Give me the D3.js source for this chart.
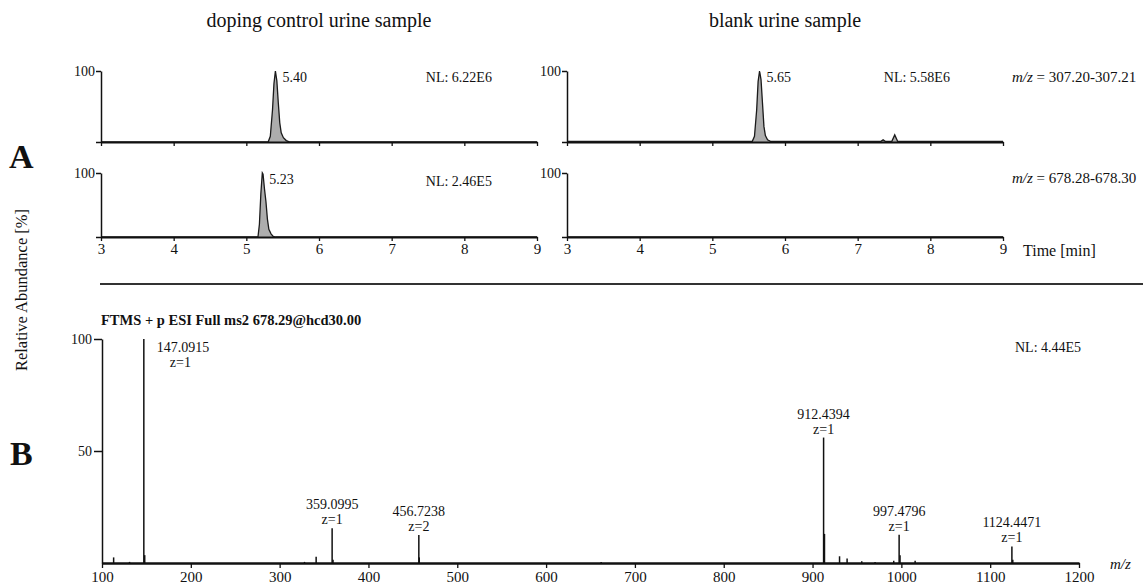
<!DOCTYPE html>
<html>
<head>
<meta charset="utf-8">
<script src="https://cdnjs.cloudflare.com/ajax/libs/d3/7.8.5/d3.min.js"></script>
<style>
body { margin: 0; background: #fff; }
svg text { font-family: "Liberation Serif", "Times New Roman", serif; fill: #111; }
.axis path, .axis line { stroke: #111; }
.axis text { font-size: 15px; font-family: "Liberation Serif", "Times New Roman", serif; }
</style>
</head>
<body>
<svg id="svg1" width="1143" height="585"></svg>
<script>
var svg = d3.select('#svg1');

// chromatograms (time [min], relative abundance)
var sampleTitles = ['doping control urine sample', 'blank urine sample'];
var timeTicks = [3, 4, 5, 6, 7, 8, 9];
var mzRanges = ['307.20-307.21', '678.28-678.30'];

var doping307 = [[3, 0], [5.30, 0], [5.33, 8], [5.36, 45], [5.38, 82], [5.40, 100], [5.42, 86], [5.44, 55],
    [5.46, 27], [5.48, 13], [5.51, 6], [5.55, 2], [5.60, 0], [9, 0]];
var blank307 = [[3, 1], [5.55, 1], [5.58, 8], [5.61, 45], [5.63, 85], [5.65, 100], [5.67, 88], [5.69, 55],
    [5.71, 22], [5.73, 9], [5.76, 3], [5.80, 1], [7.32, 1], [7.35, 3], [7.38, 1], [7.47, 1], [7.51, 10],
    [7.55, 1], [9, 1]];
var doping678 = [[3, 0], [5.16, 0], [5.18, 20], [5.20, 68], [5.22, 100], [5.23, 98], [5.25, 75], [5.27, 55],
    [5.29, 28], [5.31, 12], [5.34, 5], [5.37, 1], [5.40, 0], [9, 0]];
var blank678 = [[3, 0], [9, 0]];

var apexLabels = ['5.40', '5.65', '5.23', null];
var nlLabels = ['NL: 6.22E6', 'NL: 5.58E6', 'NL: 2.46E5', null];

// MS2 spectrum
var specMz = [113.1, 131.0, 147.09, 148.1, 328.0, 341.1, 359.10, 360.1, 456.72, 457.22, 662.0,
    912.44, 913.44, 930.4, 938.9, 955.4, 970.4, 991.4, 997.48, 998.48, 1015.5, 1124.45, 1125.45];
var specAbund = [2.5, 0.5, 100, 3.5, 0.5, 2.8, 15.5, 1.5, 12.5, 2.5, 0.4,
    56, 13, 3, 2, 0.8, 0.5, 1, 12.6, 3.5, 1, 7.4, 1.5];
var peakLabels = ['147.0915', '359.0995', '456.7238', '912.4394', '997.4796', '1124.4471'];
var peakCharges = ['z=1', 'z=1', 'z=2', 'z=1', 'z=1', 'z=1'];
var mzTicks = [100, 200, 300, 400, 500, 600, 700, 800, 900, 1000, 1100, 1200];

var panels = [
    {data: doping307, col: 0, row: 0},
    {data: blank307, col: 1, row: 0},
    {data: doping678, col: 0, row: 1},
    {data: blank678, col: 1, row: 1}
];
var colX = [[101, 537], [567, 1003]];
var rowY = [[71, 142], [173, 237]];

function cleanAxis(g) {
    g.attr('font-family', null).attr('font-size', null);
}

// titles
svg.selectAll('.title')
    .data(sampleTitles)
    .enter()
    .append('text')
    .attr('class', 'title')
    .attr('x', function(d, i) { return (colX[i][0] + colX[i][1]) / 2; })
    .attr('y', 27)
    .attr('text-anchor', 'middle')
    .style('font-size', '20px')
    .text(function(d) { return d; });

panels.forEach(function(p, i) {
    var xScale = d3.scaleLinear().domain([3, 9]).range(colX[p.col]);
    var yScale = d3.scaleLinear().domain([0, 100]).range([rowY[p.row][1], rowY[p.row][0]]);
    var g = svg.append('g');

    var area = d3.area()
        .x(function(d) { return xScale(d[0]); })
        .y0(yScale(0))
        .y1(function(d) { return yScale(d[1]); });
    var line = d3.line()
        .x(function(d) { return xScale(d[0]); })
        .y(function(d) { return yScale(d[1]); });

    g.append('path')
        .datum(p.data)
        .attr('d', area)
        .style('fill', '#adadad');
    g.append('path')
        .datum(p.data)
        .attr('d', line)
        .style('fill', 'none')
        .style('stroke', '#1a1a1a')
        .style('stroke-width', 1.3);

    var yAxis = d3.axisLeft(yScale).tickValues([0, 100]).tickSize(5).tickSizeOuter(0).tickPadding(1)
        .tickFormat(function(d) { return d == 100 ? '100' : ''; });
    var yg = g.append('g')
        .attr('class', 'axis')
        .attr('transform', 'translate(' + [colX[p.col][0], 0] + ')')
        .call(yAxis)
        .call(cleanAxis);
    yg.selectAll('path, line').style('stroke-width', 1.5);
    yg.selectAll('text').style('font-size', '14px');

    var xAxis = d3.axisBottom(xScale).tickValues(timeTicks).tickSize(4).tickSizeOuter(0).tickPadding(2)
        .tickFormat(d3.format('d'));
    var xg = g.append('g')
        .attr('class', 'axis')
        .attr('transform', 'translate(' + [0, yScale(0)] + ')')
        .call(xAxis)
        .call(cleanAxis);
    xg.select('.domain').style('stroke-width', 2.2);
    xg.selectAll('line').style('stroke-width', 1.3);
    if (p.row == 0) xg.selectAll('text').remove();

    if (apexLabels[i]) {
        var apex = d3.greatest(p.data, function(d) { return d[1]; });
        g.append('text')
            .attr('x', xScale(apex[0]) + 7)
            .attr('y', yScale(apex[1]) + 11)
            .style('font-size', '14px')
            .text(apexLabels[i]);
    }
    if (nlLabels[i]) {
        g.append('text')
            .attr('x', xScale(p.col == 0 ? 7.47 : 7.36))
            .attr('y', yScale(100) + (p.row == 0 ? 11 : 13))
            .style('font-size', '14px')
            .text(nlLabels[i]);
    }
    if (p.col == 1) {
        var t = g.append('text')
            .attr('x', 1012)
            .attr('y', yScale(100) + (p.row == 0 ? 11 : 10))
            .style('font-size', '15px');
        t.append('tspan').style('font-style', 'italic').text('m/z');
        t.append('tspan').text(' = ' + mzRanges[p.row]);
    }
});

svg.append('text')
    .attr('x', 1023)
    .attr('y', 256)
    .style('font-size', '16px')
    .text('Time [min]');

// panel letters and shared y label
svg.append('text').attr('x', 9).attr('y', 168)
    .style('font-size', '34px').style('font-weight', 'bold').text('A');
svg.append('text').attr('x', 10).attr('y', 465)
    .style('font-size', '34px').style('font-weight', 'bold').text('B');
svg.append('text')
    .attr('transform', 'translate(27,290) rotate(-90)')
    .attr('text-anchor', 'middle')
    .style('font-size', '16.5px')
    .text('Relative Abundance [%]');

// separator
svg.append('line')
    .attr('x1', 100).attr('x2', 1143)
    .attr('y1', 284).attr('y2', 284)
    .style('stroke', '#333')
    .style('stroke-width', 2);

// spectrum
var xSpec = d3.scaleLinear().domain([100, 1200]).range([102, 1079]);
var ySpec = d3.scaleLinear().domain([0, 100]).range([563, 339]);

svg.append('text')
    .attr('x', 101).attr('y', 325)
    .style('font-size', '14.5px').style('font-weight', 'bold')
    .text('FTMS + p ESI Full ms2 678.29@hcd30.00');

svg.selectAll('.stick')
    .data(specMz)
    .enter()
    .append('line')
    .attr('class', 'stick')
    .attr('x1', function(d) { return xSpec(d); })
    .attr('x2', function(d) { return xSpec(d); })
    .attr('y1', ySpec(0))
    .attr('y2', function(d, i) { return ySpec(specAbund[i]); })
    .style('stroke', '#111')
    .style('stroke-width', 1.5);

var ySpecAxis = d3.axisLeft(ySpec).tickValues([50, 100]).tickSize(8).tickSizeOuter(0).tickPadding(2);
var ys = svg.append('g')
    .attr('class', 'axis')
    .attr('transform', 'translate(' + [102, 0] + ')')
    .call(ySpecAxis)
    .call(cleanAxis);
ys.selectAll('path, line').style('stroke-width', 1.5);
ys.selectAll('text').style('font-size', '14px');

var xSpecAxis = d3.axisBottom(xSpec).tickValues(mzTicks).tickSize(5).tickSizeOuter(0).tickPadding(3)
    .tickFormat(d3.format('d'));
var xs = svg.append('g')
    .attr('class', 'axis')
    .attr('transform', 'translate(' + [0, 563] + ')')
    .call(xSpecAxis)
    .call(cleanAxis);
xs.select('.domain').style('stroke-width', 2.5);
xs.selectAll('line').style('stroke-width', 1.3);

var lbl = svg.selectAll('.peaklabel')
    .data(peakLabels)
    .enter()
    .append('g')
    .attr('class', 'peaklabel');

lbl.each(function(d, i) {
    var mz = +d;
    var k = specMz.findIndex(function(m) { return Math.abs(m - mz) < 0.05; });
    var top = ySpec(specAbund[k]);
    var g = d3.select(this);
    if (specAbund[k] >= 100) {
        g.append('text').attr('x', xSpec(mz) + 13).attr('y', top + 13)
            .style('font-size', '14px').text(d);
        g.append('text').attr('x', xSpec(mz) + 26).attr('y', top + 28)
            .style('font-size', '14px').text(peakCharges[i]);
    } else {
        g.append('text').attr('x', xSpec(mz)).attr('y', top - 19)
            .attr('text-anchor', 'middle').style('font-size', '14px').text(d);
        g.append('text').attr('x', xSpec(mz)).attr('y', top - 4)
            .attr('text-anchor', 'middle').style('font-size', '14px').text(peakCharges[i]);
    }
});

svg.append('text')
    .attr('x', 1015).attr('y', 352)
    .style('font-size', '14px')
    .text('NL: 4.44E5');

svg.append('text')
    .attr('x', 1110).attr('y', 569)
    .style('font-size', '15px').style('font-style', 'italic')
    .text('m/z');
</script>
</body>
</html>
